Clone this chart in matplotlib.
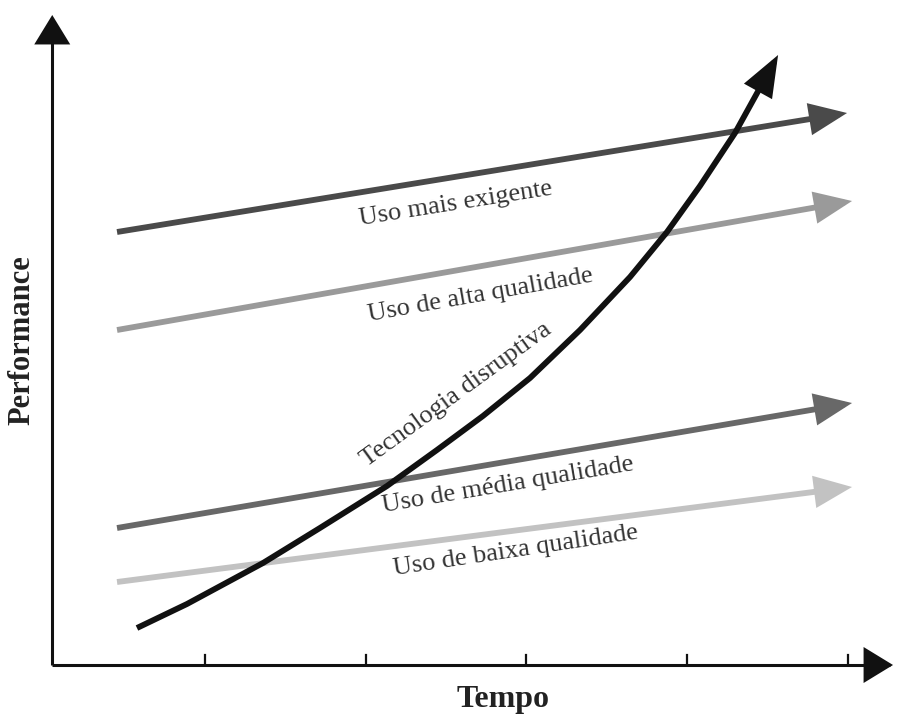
import matplotlib
matplotlib.use("Agg")
import matplotlib.pyplot as plt
from matplotlib.patches import FancyArrowPatch
from matplotlib.path import Path
import numpy as np

plt.rcParams["font.family"] = ["Liberation Serif", "DejaVu Serif"]

# usos do mercado: inicio e fim de cada seta (tempo, performance)
usos = ["Uso mais exigente", "Uso de alta qualidade",
        "Uso de média qualidade", "Uso de baixa qualidade"]
t_inicio = [0.453, 0.453, 0.453, 0.453]
p_inicio = [4.33, 3.35, 1.37, 0.83]
t_fim = [4.994, 5.025, 5.025, 5.025]
p_fim = [5.52, 4.64, 2.62, 1.78]
cores = ["#4a4a4a", "#9a9a9a", "#686868", "#c2c2c2"]

# tecnologia disruptiva
curva_t = [0.577, 0.888, 1.361, 1.715, 2.132, 2.443, 2.729, 3.022,
           3.333, 3.644, 3.874, 4.079, 4.297, 4.565]
curva_p = [0.37, 0.61, 1.02, 1.37, 1.79, 2.15, 2.49, 2.87,
           3.35, 3.88, 4.33, 4.79, 5.32, 6.10]

ticks_t = [1, 2, 3, 4, 5]

fig = plt.figure(figsize=(9.03, 7.15), dpi=100)
ax = fig.add_axes([0, 0, 1, 1])
ax.set_xlim(-0.275, 5.342)
ax.set_ylim(-0.5, 6.65)
ax.axis("off")


def seta(xs, ys, cor, lw, hl, hw):
    caminho = Path(np.column_stack([xs, ys]))
    a = FancyArrowPatch(path=caminho,
                        arrowstyle=f"-|>,head_length={hl},head_width={hw}",
                        mutation_scale=10, color=cor, lw=lw,
                        capstyle="butt", joinstyle="miter")
    ax.add_patch(a)


# eixos
seta([0.05, 0.05], [0, 6.5], "#111111", 2.2, 1.8, 1.1)
seta([0.05, 5.28], [0, 0], "#111111", 2.2, 1.8, 1.1)
for t in ticks_t:
    ax.plot([t, t], [0, 0.1], color="#111111", lw=1.6)

# usos
for i in range(4):
    seta([t_inicio[i], t_fim[i]], [p_inicio[i], p_fim[i]], cores[i], 4.2, 2.0, 0.85)

# curva
seta(curva_t, curva_p, "#111111", 4.2, 2.2, 0.85)

cor_txt = "#333333"
ax.text(2.561, 4.61, usos[0], rotation=9, rotation_mode="anchor",
        ha="center", va="center", fontsize=19, color=cor_txt)
ax.text(2.711, 3.70, usos[1], rotation=10, rotation_mode="anchor",
        ha="center", va="center", fontsize=19, color=cor_txt)
ax.text(2.885, 1.80, usos[2], rotation=9.5, rotation_mode="anchor",
        ha="center", va="center", fontsize=19, color=cor_txt)
ax.text(2.935, 1.14, usos[3], rotation=8.5, rotation_mode="anchor",
        ha="center", va="center", fontsize=19, color=cor_txt)
ax.text(2.565, 2.70, "Tecnologia disruptiva", rotation=36, rotation_mode="anchor",
        ha="center", va="center", fontsize=19, color=cor_txt)

ax.text(-0.138, 3.25, "Performance", rotation=90, ha="center", va="center",
        fontsize=22, fontweight="bold", color="#222222")
ax.text(2.854, -0.35, "Tempo", ha="center", va="center",
        fontsize=23, fontweight="bold", color="#222222")

fig.savefig("out.png", dpi=100)
